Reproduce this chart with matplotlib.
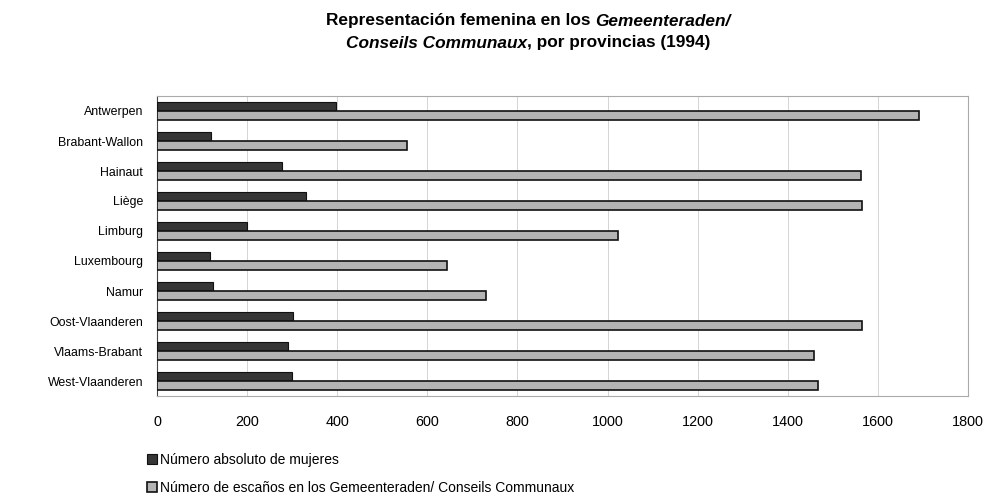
import matplotlib
matplotlib.use("Agg")
import matplotlib.pyplot as plt
import numpy as np

provinces = ["Antwerpen", "Brabant-Wallon", "Hainaut", "Liège", "Limburg",
             "Luxembourg", "Namur", "Oost-Vlaanderen", "Vlaams-Brabant", "West-Vlaanderen"]
women = [397, 120, 277, 331, 200, 118, 124, 302, 291, 300]
seats = [1691, 555, 1563, 1565, 1023, 644, 730, 1565, 1458, 1467]
xticks = [0, 200, 400, 600, 800, 1000, 1200, 1400, 1600, 1800]
legend_labels = ["Número absoluto de mujeres",
                 "Número de escaños en los Gemeenteraden/ Conseils Communaux"]

plt.rcParams['font.family'] = ['Liberation Sans', 'DejaVu Sans']

fig = plt.figure(figsize=(9.93, 4.97), dpi=100)
ax = fig.add_axes([157/993, 1-396/497, (968-157)/993, (396-96)/497])

y = np.arange(len(provinces))
h = 0.3
b1 = ax.barh(y - h/2, women, height=h, color="#363636", edgecolor="#111111", linewidth=0.8, label=legend_labels[0], zorder=3)
b2 = ax.barh(y + h/2, seats, height=h, color="#b4b4b4", edgecolor="#111111", linewidth=1.2, label=legend_labels[1], zorder=3)

ax.set_ylim(len(provinces) - 0.5, -0.5)
ax.set_xlim(0, 1800)
ax.set_xticks(xticks)
ax.set_xticklabels([str(t) for t in xticks], fontsize=10.4)
ax.set_yticks(y)
ax.set_yticklabels(provinces, fontsize=8.9)
ax.tick_params(axis='both', length=0)
ax.tick_params(axis='x', pad=14)
ax.tick_params(axis='y', pad=10)
ax.xaxis.grid(True, color="#d4d4d4", linewidth=0.7, zorder=0)
for s in ax.spines.values():
    s.set_color("#aaaaaa")
    s.set_linewidth(0.8)
ax.spines['left'].set_color("#444444")

# Title with mixed italic
fig.canvas.draw()
r = fig.canvas.get_renderer()
fs = 12.4
def width(txt, style):
    t = fig.text(0, 0, txt, fontsize=fs, fontweight='bold', style=style)
    w = t.get_window_extent(r).width
    t.remove()
    return w

lines = [
    [("Representación femenina en los ", "normal"), ("Gemeenteraden/", "italic")],
    [("Conseils Communaux", "italic"), (", por provincias (1994)", "normal")],
]
cx = 528
ys = [497-21, 497-43]
for parts, yy in zip(lines, ys):
    ws = [width(p, s) for p, s in parts]
    x0 = cx - sum(ws)/2
    for (p, s), w in zip(parts, ws):
        fig.text(x0/993, yy/497, p, fontsize=fs, fontweight='bold', style=s, va='center', ha='left')
        x0 += w

fig.legend(handles=[b1, b2], labels=legend_labels, loc='upper left',
           bbox_to_anchor=(147/993, 1-453/497), frameon=False, fontsize=10,
           handlelength=0.75, handleheight=0.75, handletextpad=0.2, labelspacing=1.0,
           borderaxespad=0, borderpad=0)

fig.savefig("out.png", dpi=100)
